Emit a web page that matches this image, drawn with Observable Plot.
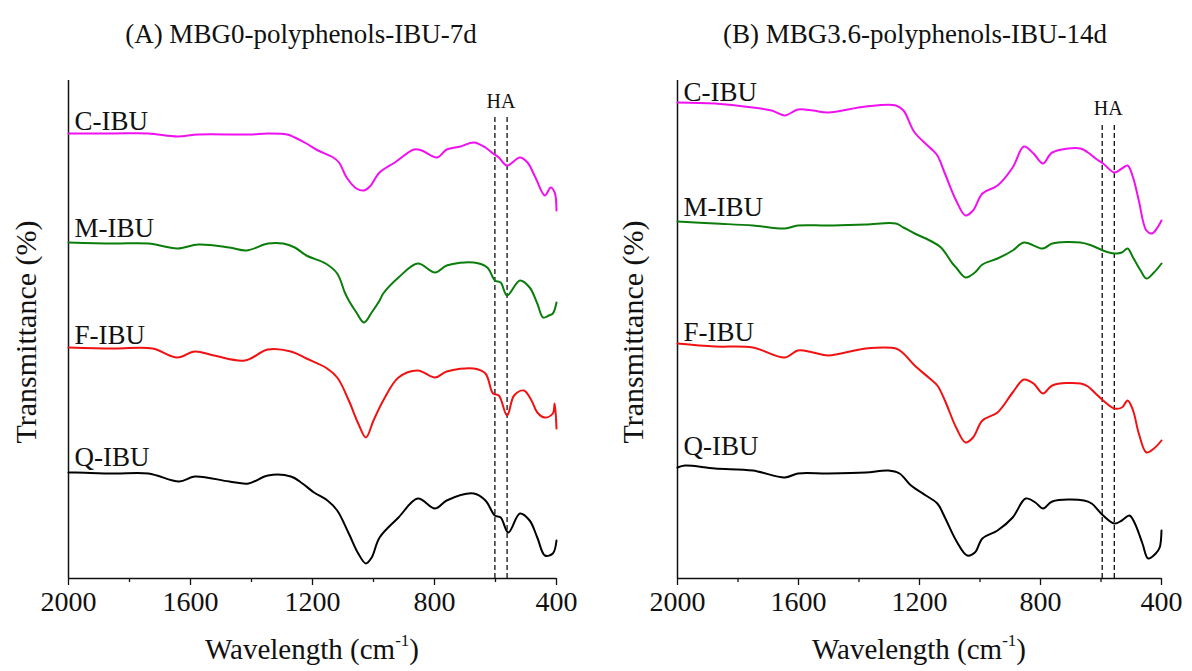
<!DOCTYPE html>
<html>
<head>
<meta charset="utf-8">
<script src="https://cdn.jsdelivr.net/npm/d3@7"></script>
<script src="https://cdn.jsdelivr.net/npm/@observablehq/plot@0.6"></script>
<style>
  body { margin: 0; background: #fff; font-family: "Liberation Serif", "Times New Roman", serif; color: #111; }
  #wrap { position: relative; width: 1192px; height: 671px; overflow: hidden; }
  .panel { position: absolute; top: 0; }
  .title { position: absolute; top: 19px; font-size: 27px; white-space: nowrap; transform: translateX(-50%); }
  .xlab { position: absolute; top: 633px; font-size: 29px; white-space: nowrap; transform: translateX(-50%); }
  .xlab sup { font-size: 17px; position: relative; top: -2px; }
  .ylab { position: absolute; font-size: 30px; white-space: nowrap; transform: translate(-50%, -50%) rotate(-90deg); }
</style>
</head>
<body>
<div id="wrap">
  <div class="title" style="left:301px">(A) MBG0-polyphenols-IBU-7d</div>
  <div class="title" style="left:915px">(B) MBG3.6-polyphenols-IBU-14d</div>
  <div class="ylab" style="left:26px; top:332px">Transmittance (%)</div>
  <div class="ylab" style="left:633px; top:332px">Transmittance (%)</div>
  <div class="xlab" style="left:312px">Wavelength (cm<sup>-1</sup>)</div>
  <div class="xlab" style="left:919px">Wavelength (cm<sup>-1</sup>)</div>
  <div id="left" class="panel" style="left:0px"></div>
  <div id="right" class="panel" style="left:596px"></div>
</div>
<script>
// ---- data (wavenumber in cm^-1, transmittance in arbitrary offset units) ----
const xTicks = [2000, 1600, 1200, 800, 400];
const xMinorTicks = [1800, 1400, 1000, 600];
const seriesNames = ["C-IBU", "M-IBU", "F-IBU", "Q-IBU"];
const seriesColors = ["#f010f0", "#0b7d0b", "#f01212", "#000000"];

// Panel A: MBG0-polyphenols-IBU-7d
const leftC_wn = [2000,1851,1738,1643,1574,1409,1346,1283,1258,1220,1182,1132,1113,1088,1056,1031,1012,980,930,867,842,791,760,715,671,633,608,589,562,520,495,469,438,419,406,400];
const leftC_T  = [445,445,445,442,444,444,445,444,441,435,428,421,416,401,390,388,392,406,416,429,428,421,429,432,436,431,425,421,413,421,416,401,383,391,386,368];
const leftM_wn = [2000,1851,1738,1643,1574,1473,1416,1346,1296,1258,1220,1157,1119,1094,1081,1056,1031,1006,980,968,918,855,798,760,671,627,602,583,562,520,488,463,444,425,412,400];
const leftM_T  = [336,335,335,330,334,331,328,335,335,331,323,315,305,286,278,266,256,266,278,285,301,315,306,313,316,311,298,296,283,298,291,275,261,263,265,276];
const leftF_wn = [2000,1851,1725,1643,1586,1523,1422,1346,1271,1220,1157,1119,1081,1050,1025,1000,968,918,855,798,760,671,633,608,589,562,539,507,482,463,438,412,406,400];
const leftF_T  = [231,230,230,221,227,223,218,229,227,220,211,201,178,155,141,158,178,201,208,201,207,210,205,185,183,163,183,188,178,166,161,165,175,150];
const leftQ_wn = [2000,1977,1851,1738,1637,1586,1473,1410,1346,1271,1233,1195,1151,1119,1081,1050,1025,1006,980,918,855,798,760,671,633,602,583,558,520,488,463,438,412,400];
const leftQ_T  = [106,106,105,105,97,102,97,95,103,102,95,86,78,68,45,25,15,21,41,61,80,70,78,85,78,63,61,46,65,58,41,23,25,38];
const leftHA = [602, 562];
const leftLabelY = [457, 350, 243, 121];

// Panel B: MBG3.6-polyphenols-IBU-14d
const rightC_wn = [2000,1876,1751,1689,1645,1602,1552,1502,1378,1278,1253,1216,1166,1141,1116,1079,1048,1023,992,942,892,855,823,792,761,668,643,618,593,556,531,512,494,475,450,431,413,400];
const rightC_T  = [476,475,471,468,463,469,468,466,472,473,468,446,431,423,405,378,363,368,385,393,411,432,425,415,426,430,426,420,415,406,410,413,401,378,348,345,351,358];
const rightM_wn = [2000,1876,1751,1645,1602,1502,1378,1278,1253,1216,1166,1129,1091,1079,1048,1017,992,942,892,855,792,761,668,631,593,556,531,512,494,469,450,425,400];
const rightM_T  = [357,355,353,350,353,353,354,355,351,345,338,331,315,311,301,306,314,320,328,336,330,335,336,333,328,325,326,330,321,308,300,306,315];
const rightF_wn = [2000,1876,1751,1645,1602,1552,1502,1378,1278,1253,1216,1166,1141,1116,1079,1048,1023,992,942,892,855,823,792,761,668,643,618,593,556,531,512,494,475,450,425,400];
const rightF_T  = [235,232,231,221,228,226,223,230,230,225,213,200,193,178,151,136,141,158,166,186,199,195,185,193,195,192,185,178,170,171,178,168,145,126,130,138];
const rightQ_wn = [2000,1975,1876,1751,1645,1602,1502,1378,1303,1266,1228,1179,1141,1116,1079,1042,1017,992,942,892,849,817,792,761,656,631,593,556,531,506,488,463,444,419,406,400];
const rightQ_T  = [111,113,110,108,101,105,105,106,108,105,93,83,75,61,38,23,26,40,48,61,80,76,70,77,78,75,63,55,58,63,55,35,20,25,31,48];
const rightHA = [596, 556];
const rightLabelY = [486, 371, 246, 132];

// ---- build tables ----
function toRows(wn, T, name) { return wn.map((w, i) => ({wn: w, T: T[i], series: name})); }

function panel({curves, ha, labelY, haTextY, haTop, marginLeft, marginRight}) {
  const rows = curves.flatMap(([wn, T], k) => toRows(wn, T, seriesNames[k]));
  const labels = seriesNames.map((s, k) => ({series: s, y: labelY[k]}));
  return Plot.plot({
    width: 596, height: 671,
    marginLeft, marginRight, marginTop: 80, marginBottom: 93,
    x: {domain: [2000, 400]},
    y: {domain: [0, 498], axis: null},
    color: {domain: seriesNames, range: seriesColors},
    style: {fontFamily: "Liberation Serif, Times New Roman, serif", background: "transparent", color: "#111", overflow: "visible"},
    marks: [
      Plot.axisX({ticks: xMinorTicks, tickSize: 4, tickFormat: () => "", label: null, strokeWidth: 1.3}),
      Plot.axisX({ticks: xTicks, tickSize: 7, tickPadding: 6, tickFormat: d => String(d), label: null, fontSize: 28, strokeWidth: 1.3}),
      Plot.ruleY([0], {stroke: "#111", strokeWidth: 1.5}),
      Plot.ruleX([2000], {y1: 0, y2: 498, stroke: "#111", strokeWidth: 1.5}),
      Plot.ruleX(ha, {y1: 0, y2: haTop, stroke: "#111", strokeWidth: 1.3, strokeDasharray: "5,3"}),
      Plot.text(["HA"], {x: d3.mean(ha), y: haTextY, text: d => d, fontSize: 20, fill: "#111"}),
      Plot.line(rows, {x: "wn", y: "T", z: "series", stroke: "series", strokeWidth: 2, curve: "catmull-rom"}),
      Plot.text(labels, {x: 2000, y: "y", text: "series", textAnchor: "start", dx: 6, fontSize: 27, fill: "#111"})
    ]
  });
}

document.getElementById("left").append(panel({
  curves: [[leftC_wn, leftC_T], [leftM_wn, leftM_T], [leftF_wn, leftF_T], [leftQ_wn, leftQ_T]],
  ha: leftHA, labelY: leftLabelY, haTextY: 477, haTop: 463, marginLeft: 68, marginRight: 40
}));
document.getElementById("right").append(panel({
  curves: [[rightC_wn, rightC_T], [rightM_wn, rightM_T], [rightF_wn, rightF_T], [rightQ_wn, rightQ_T]],
  ha: rightHA, labelY: rightLabelY, haTextY: 470, haTop: 456, marginLeft: 81, marginRight: 31
}));
</script>
</body>
</html>
